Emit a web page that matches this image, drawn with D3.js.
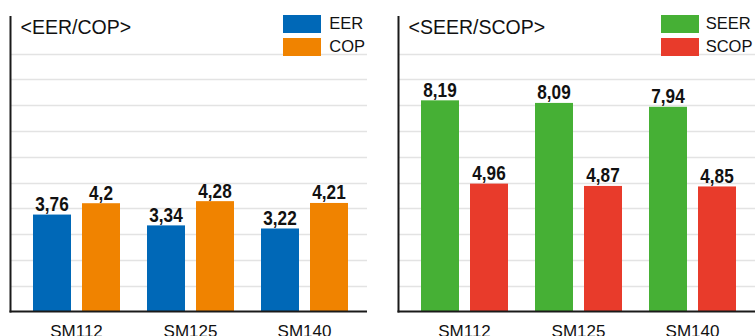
<!DOCTYPE html>
<html>
<head>
<meta charset="utf-8">
<script src="https://cdn.jsdelivr.net/npm/d3@7"></script>
<style>
  html, body { margin: 0; padding: 0; background: #fff; }
  svg { display: block; }
</style>
</head>
<body>
<svg id="chart" width="755" height="336"></svg>
<script>
// Models shown on both panels
const categories = ["SM112", "SM125", "SM140"];

// Nominal efficiency
const eerValues = [3.76, 3.34, 3.22];
const copValues = [4.2, 4.28, 4.21];

// Seasonal efficiency
const seerValues = [8.19, 8.09, 7.94];
const scopValues = [4.96, 4.87, 4.85];

// Value labels as printed (decimal comma)
const eerLabels = ["3,76", "3,34", "3,22"];
const copLabels = ["4,2", "4,28", "4,21"];
const seerLabels = ["8,19", "8,09", "7,94"];
const scopLabels = ["4,96", "4,87", "4,85"];

const gridTicks = [1, 2, 3, 4, 5, 6, 7, 8, 9, 10];

const panels = [
  {
    title: "<EER/COP>",
    x0: 10.5,
    right: 367,
    legendX: 283,
    legendGap: 46.3,
    series: [
      { name: "EER", values: eerValues, labels: eerLabels, color: "#0068b7" },
      { name: "COP", values: copValues, labels: copLabels, color: "#f08300" }
    ]
  },
  {
    title: "<SEER/SCOP>",
    x0: 398.5,
    right: 755,
    legendX: 661,
    legendGap: 44.7,
    series: [
      { name: "SEER", values: seerValues, labels: seerLabels, color: "#46b035" },
      { name: "SCOP", values: scopValues, labels: scopLabels, color: "#e83b2b" }
    ]
  }
];

const svg = d3.select("#chart");
const baseY = 311.5;
const y = d3.scaleLinear().domain([0, 11.5]).range([baseY, 15]);

const FONT = "'Liberation Sans', Arial, Helvetica, sans-serif";

panels.forEach(p => {
  const g = svg.append("g");

  // horizontal gridlines
  g.selectAll("line.grid")
    .data(gridTicks)
    .join("line")
    .attr("class", "grid")
    .attr("x1", p.x0).attr("x2", p.right)
    .attr("y1", d => Math.round(y(d)) + 0.5)
    .attr("y2", d => Math.round(y(d)) + 0.5)
    .attr("stroke", "#e3e3e3")
    .attr("stroke-width", 1.3);

  // category bands and grouped bars
  const x0 = d3.scaleBand()
    .domain(categories)
    .range([p.x0 + 9, p.x0 + 9 + 342])
    .padding(0);
  const x1 = d3.scaleBand()
    .domain(p.series.map(s => s.name))
    .range([13.5, 100.5])
    .paddingInner(11 / 49)
    .paddingOuter(0);

  p.series.forEach(s => {
    const sg = g.append("g");
    sg.selectAll("rect")
      .data(categories)
      .join("rect")
      .attr("x", c => x0(c) + x1(s.name))
      .attr("y", (c, i) => y(s.values[i]))
      .attr("width", x1.bandwidth())
      .attr("height", (c, i) => baseY - y(s.values[i]))
      .attr("fill", s.color);

    // bold condensed value labels above each bar
    sg.selectAll("text")
      .data(categories)
      .join("text")
      .attr("transform", (c, i) =>
        `translate(${x0(c) + x1(s.name) + x1.bandwidth() / 2},${y(s.values[i]) - 3.6}) scale(0.88,1)`)
      .attr("text-anchor", "middle")
      .attr("font-family", FONT)
      .attr("font-weight", "bold")
      .attr("font-size", 19.5)
      .attr("fill", "#111")
      .text((c, i) => s.labels[i]);
  });

  // category axis labels
  g.selectAll("text.cat")
    .data(categories)
    .join("text")
    .attr("class", "cat")
    .attr("x", c => x0(c) + 57)
    .attr("y", 336.5)
    .attr("text-anchor", "middle")
    .attr("font-family", FONT)
    .attr("font-size", 17)
    .attr("fill", "#111")
    .text(c => c);

  // axis lines
  g.append("line")
    .attr("x1", p.x0).attr("x2", p.x0)
    .attr("y1", 16).attr("y2", baseY + 1)
    .attr("stroke", "#1a1a1a").attr("stroke-width", 2);
  g.append("line")
    .attr("x1", p.x0 - 1).attr("x2", p.right)
    .attr("y1", baseY).attr("y2", baseY)
    .attr("stroke", "#1a1a1a").attr("stroke-width", 2);

  // panel title
  g.append("text")
    .attr("x", p.x0 + 10)
    .attr("y", 33.5)
    .attr("font-family", FONT)
    .attr("font-size", 19.5)
    .attr("fill", "#111")
    .text(p.title);

  // legend
  const lg = g.append("g");
  p.series.forEach((s, i) => {
    lg.append("rect")
      .attr("x", p.legendX).attr("y", 15 + i * 23)
      .attr("width", 38).attr("height", 18)
      .attr("fill", s.color);
    lg.append("text")
      .attr("x", p.legendX + p.legendGap)
      .attr("y", 29 + i * 23)
      .attr("font-family", FONT)
      .attr("font-size", 16.5)
      .attr("fill", "#111")
      .text(s.name);
  });
});
</script>
</body>
</html>
